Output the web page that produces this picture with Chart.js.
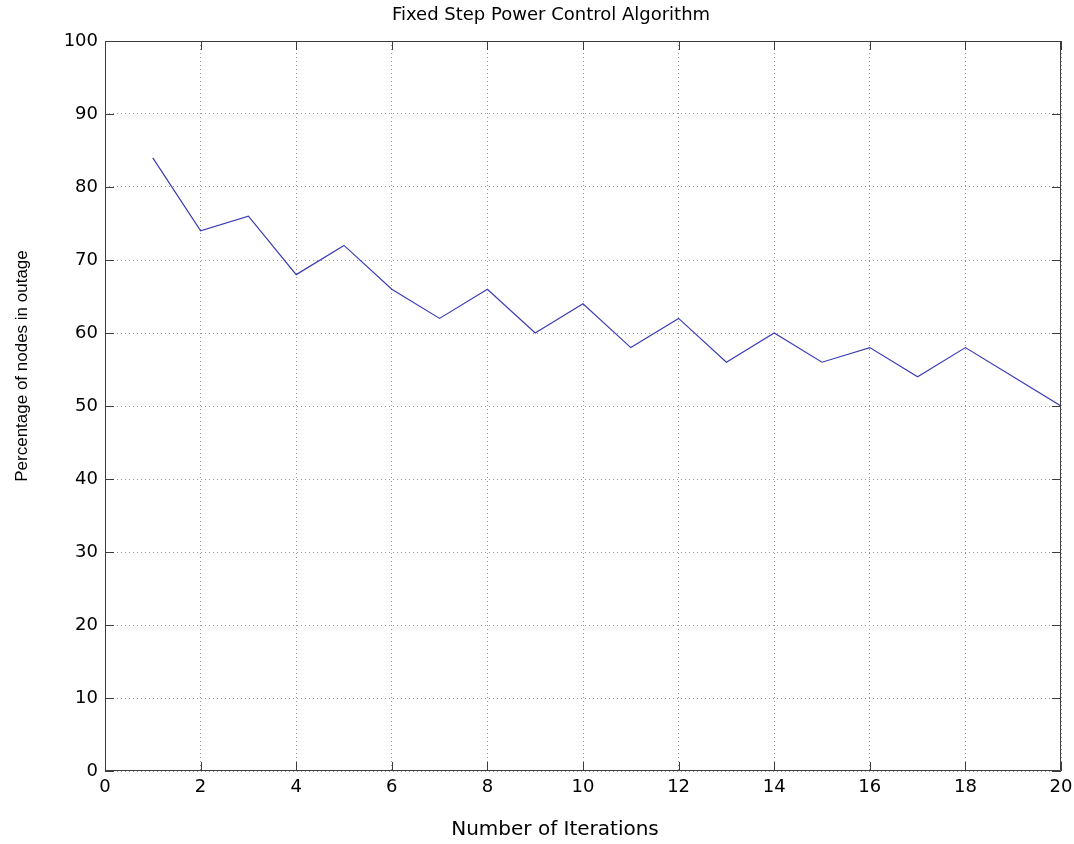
<!DOCTYPE html>
<html>
<head>
<meta charset="utf-8">
<script src="https://cdn.jsdelivr.net/npm/chart.js@4.4.1/dist/chart.umd.min.js"></script>
<style>
  html, body { margin: 0; padding: 0; background: #fff; }
  #wrap { width: 1074px; height: 844px; }
</style>
</head>
<body>
<div id="wrap"><canvas id="chart" width="1074" height="844"></canvas></div>
<script>
// Daten
const iterations = [1, 2, 3, 4, 5, 6, 7, 8, 9, 10, 11, 12, 13, 14, 15, 16, 17, 18, 19, 20];
const outagePercent = [84, 74, 76, 68, 72, 66, 62, 66, 60, 64, 58, 62, 56, 60, 56, 58, 54, 58, 54, 50];

const chartTitle = 'Fixed Step Power Control Algorithm';
const xLabel = 'Number of Iterations';
const yLabel = 'Percentage of nodes in outage';

const xTicks = [0, 2, 4, 6, 8, 10, 12, 14, 16, 18, 20];
const yTicks = [0, 10, 20, 30, 40, 50, 60, 70, 80, 90, 100];

const FONT = 'DejaVu Sans, Liberation Sans, Arial, sans-serif';
const FONT_NARROW = 'Liberation Sans, Arial, sans-serif';
const AXIS_COLOR = '#3c3c3c';

// Rahmen, Ticks nach innen und Beschriftungen im Matlab-Stil
const matlabBox = {
    id: 'matlabBox',
    afterDraw(chart) {
        const {ctx, chartArea: a, scales: {x, y}} = chart;
        const len = 9;
        ctx.save();
        ctx.strokeStyle = AXIS_COLOR;
        ctx.lineWidth = 1;
        ctx.beginPath();
        ctx.rect(a.left + 0.5, a.top + 0.5, a.right - a.left - 1, a.bottom - a.top - 1);
        xTicks.forEach(v => {
            const px = Math.round(x.getPixelForValue(v)) + 0.5;
            ctx.moveTo(px, a.bottom); ctx.lineTo(px, a.bottom - len);
            ctx.moveTo(px, a.top); ctx.lineTo(px, a.top + len);
        });
        yTicks.forEach(v => {
            const py = Math.round(y.getPixelForValue(v)) + 0.5;
            ctx.moveTo(a.left, py); ctx.lineTo(a.left + len, py);
            ctx.moveTo(a.right, py); ctx.lineTo(a.right - len, py);
        });
        ctx.stroke();

        // Titel und Achsenbeschriftungen
        ctx.fillStyle = '#000';
        ctx.textAlign = 'center';
        ctx.textBaseline = 'middle';
        ctx.font = '18px ' + FONT;
        ctx.fillText(chartTitle, 551, 15);
        ctx.font = '20px ' + FONT;
        ctx.fillText(xLabel, 555, 830);
        ctx.translate(22, 366);
        ctx.rotate(-Math.PI / 2);
        ctx.font = '17px ' + FONT_NARROW;
        ctx.fillText(yLabel, 0, 0);
        ctx.restore();
    }
};

const gridStyle = {
    color: '#999999',
    lineWidth: 1,
    drawTicks: false
};

new Chart(document.getElementById('chart'), {
    type: 'line',
    data: {
        labels: iterations,
        datasets: [{
            data: iterations.map((it, i) => ({x: it, y: outagePercent[i]})),
            borderColor: '#3a3ab4',
            borderWidth: 1.2,
            pointRadius: 0,
            tension: 0,
            fill: false
        }]
    },
    options: {
        responsive: false,
        animation: false,
        devicePixelRatio: 1,
        layout: { padding: { top: 41, right: 13, left: 0, bottom: 0 } },
        plugins: {
            legend: { display: false },
            title: { display: false },
            tooltip: { enabled: false }
        },
        scales: {
            x: {
                type: 'linear',
                min: 0,
                max: 20,
                afterBuildTicks: scale => { scale.ticks = xTicks.map(v => ({value: v})); },
                afterFit: scale => {
                    scale.height = 73;
                    scale.paddingLeft = 0;
                    scale.paddingRight = 0;
                },
                grid: gridStyle,
                border: { display: false, dash: [1, 3] },
                ticks: {
                    color: '#000',
                    padding: 6,
                    maxRotation: 0,
                    font: { family: FONT, size: 18 }
                }
            },
            y: {
                type: 'linear',
                min: 0,
                max: 100,
                afterBuildTicks: scale => { scale.ticks = yTicks.map(v => ({value: v})); },
                afterFit: scale => {
                    scale.width = 105;
                    scale.paddingTop = 0;
                    scale.paddingBottom = 0;
                },
                grid: gridStyle,
                border: { display: false, dash: [1, 3] },
                ticks: {
                    color: '#000',
                    padding: 7,
                    font: { family: FONT, size: 18 }
                }
            }
        }
    },
    plugins: [matlabBox]
});
</script>
</body>
</html>
